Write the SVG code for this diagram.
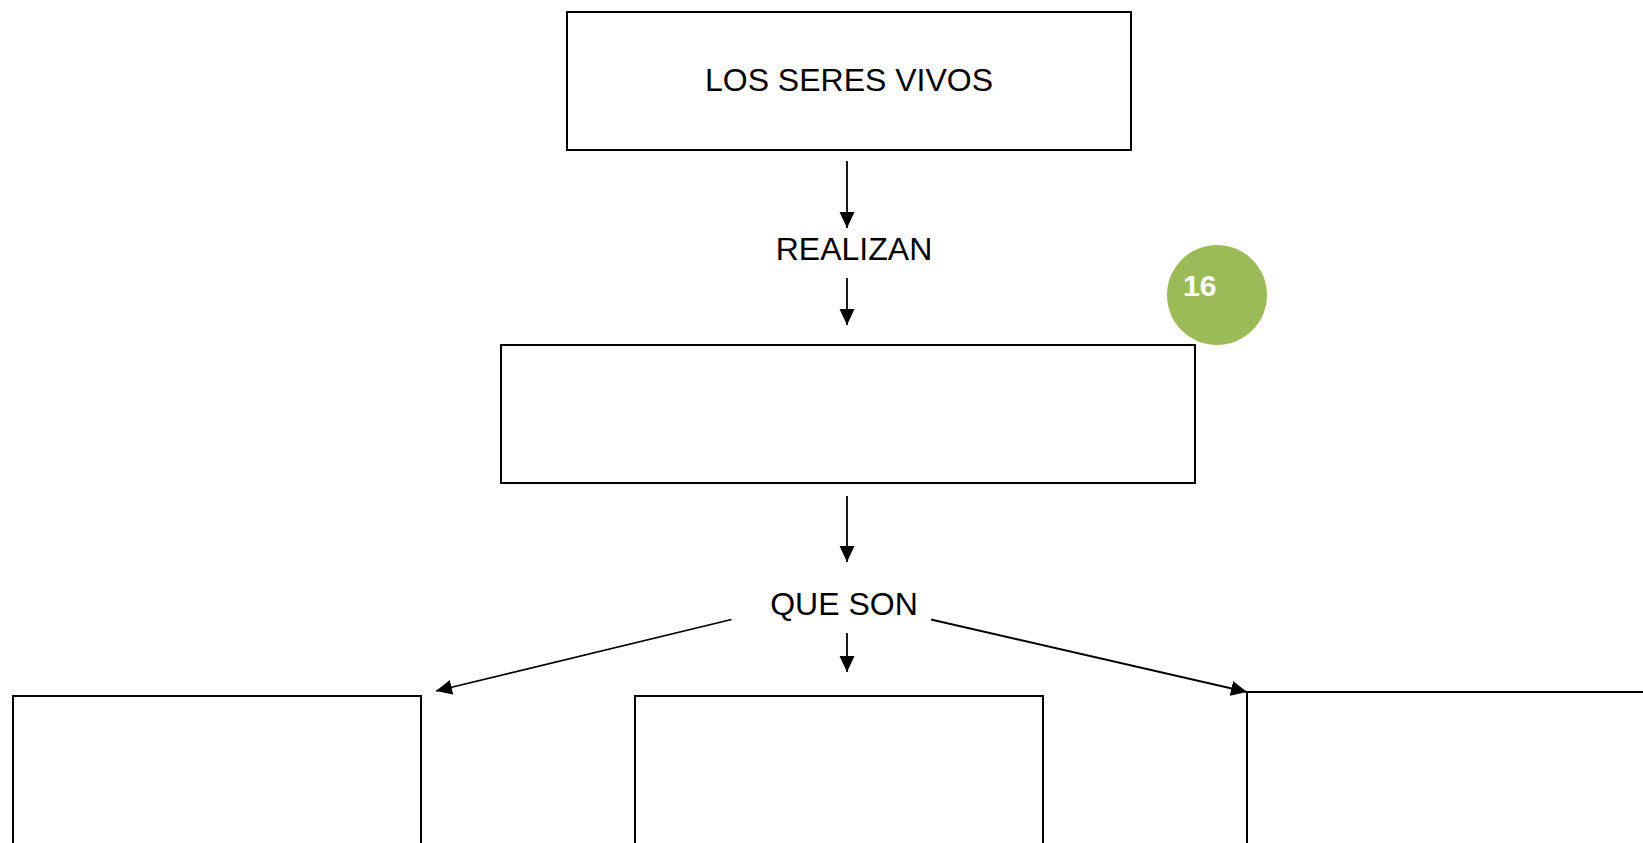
<svg xmlns="http://www.w3.org/2000/svg" width="1643" height="843" viewBox="0 0 1643 843">
  <style>
    .box { fill: #ffffff; stroke: #000000; stroke-width: 2; }
    .lbl { font-family: "Liberation Sans", Arial, sans-serif; font-size: 32px; fill: #000000; text-anchor: middle; }
    .conn { stroke: #000000; stroke-width: 1.8; fill: none; marker-end: url(#arr); }
  </style>
  <defs>
    <marker id="arr" markerUnits="userSpaceOnUse" markerWidth="17" markerHeight="16" refX="16" refY="8" orient="auto">
      <path d="M0,0.5 L16,8 L0,15.5 Z" fill="#000000"/>
    </marker>
  </defs>
  <rect x="0" y="0" width="1643" height="843" fill="#ffffff"/>

  <g id="connectors">
    <line class="conn" x1="847" y1="161" x2="847" y2="228"/>
    <line class="conn" x1="847" y1="278" x2="847" y2="325"/>
    <line class="conn" x1="847" y1="496" x2="847" y2="562"/>
    <line class="conn" x1="847" y1="633" x2="847" y2="672"/>
    <line class="conn" x1="731.5" y1="619.5" x2="436" y2="691"/>
    <line class="conn" x1="931" y1="619.5" x2="1247" y2="692"/>
  </g>

  <g id="node-seres-vivos">
    <rect class="box" x="567" y="12" width="564" height="138"/>
    <text class="lbl" x="849" y="91">LOS SERES VIVOS</text>
  </g>

  <g id="label-realizan">
    <text class="lbl" x="854" y="260">REALIZAN</text>
  </g>

  <g id="node-funciones">
    <rect class="box" x="501" y="345" width="694" height="138"/>
  </g>

  <g id="badge-16">
    <circle cx="1217" cy="295" r="50" fill="#9BBB59"/>
    <text x="1183" y="296" font-family="Liberation Sans, Arial, sans-serif" font-size="30" font-weight="bold" fill="#ffffff">16</text>
  </g>

  <g id="label-que-son">
    <text class="lbl" x="844" y="615">QUE SON</text>
  </g>

  <g id="node-left">
    <rect class="box" x="13" y="696" width="408" height="170"/>
  </g>
  <g id="node-middle">
    <rect class="box" x="635" y="696" width="408" height="170"/>
  </g>
  <g id="node-right">
    <rect class="box" x="1247" y="692" width="420" height="170"/>
  </g>
</svg>
